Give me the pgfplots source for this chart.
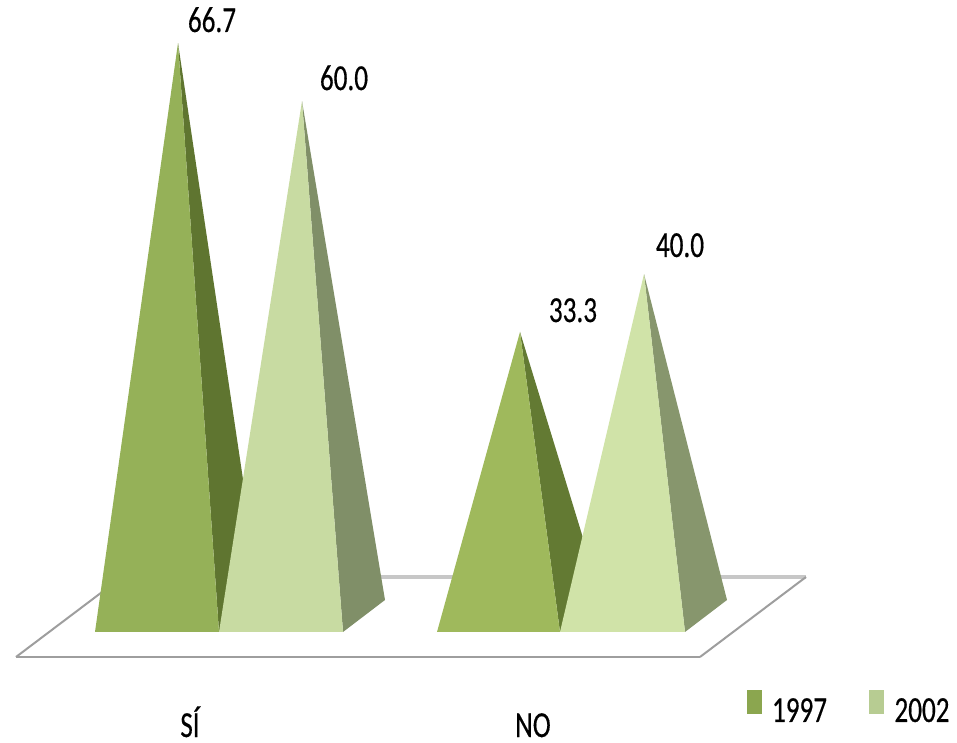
\documentclass[border=0pt]{standalone}
\usepackage{fontspec}
\setmainfont[FakeStretch=0.74,FakeBold=0.35]{Carlito}
\usepackage{pgfplots}
\pgfplotsset{compat=1.18}
\definecolor{aF}{HTML}{95B158}\definecolor{aS}{HTML}{5F7530}
\definecolor{bF}{HTML}{C8DBA2}\definecolor{bS}{HTML}{808F68}
\definecolor{cF}{HTML}{9FB95C}\definecolor{cS}{HTML}{637A33}
\definecolor{dF}{HTML}{D0E3A8}\definecolor{dS}{HTML}{87966D}
\definecolor{lgA}{HTML}{8BA64F}\definecolor{lgB}{HTML}{B7CC92}
\tikzset{lab/.style={anchor=base,font=\fontsize{27.5pt}{30pt}\selectfont,inner sep=0pt,text=black}}
\begin{document}
\begin{tikzpicture}
\begin{axis}[
  scale only axis, width=717.75pt, height=557.25pt,
  xmin=0, xmax=957, ymin=-14.22, ymax=71.68,
  hide axis, clip=false]
\path (axis cs:0,-14.22) rectangle (axis cs:957,71.68);
% floor
\addplot[color=black!22, line width=2.4pt, forget plot] coordinates {(122,4.971)(806,4.971)};
\addplot[color=black!38, line width=1.5pt, forget plot] coordinates {(16,-4.277)(122,4.971)};
\addplot[color=black!38, line width=1.5pt, forget plot] coordinates {(700,-4.277)(806,4.971)};
\addplot[color=black!38, line width=2pt, forget plot] coordinates {(16,-4.277)(700,-4.277)};
% SI 1997
\addplot[draw=none, fill=aS, forget plot] coordinates {(178,66.7)(219,-1.387)(261,2.312)} -- cycle;
\addplot[draw=none, fill=aF, forget plot] coordinates {(178,66.7)(95,-1.387)(219,-1.387)} -- cycle;
% SI 2002
\addplot[draw=none, fill=bS, forget plot] coordinates {(302,60.0)(343,-1.387)(385,2.312)} -- cycle;
\addplot[draw=none, fill=bF, forget plot] coordinates {(302,60.0)(219,-1.387)(343,-1.387)} -- cycle;
% NO 1997
\addplot[draw=none, fill=cS, forget plot] coordinates {(520,33.3)(560,-1.387)(602,2.312)} -- cycle;
\addplot[draw=none, fill=cF, forget plot] coordinates {(520,33.3)(437,-1.387)(560,-1.387)} -- cycle;
% NO 2002
\addplot[draw=none, fill=dS, forget plot] coordinates {(644,40.0)(685,-1.387)(727,2.312)} -- cycle;
\addplot[draw=none, fill=dF, forget plot] coordinates {(644,40.0)(560,-1.387)(685,-1.387)} -- cycle;
% legend keys
\addplot[draw=none, fill=lgA, forget plot] coordinates {(747,-8.09)(762,-8.09)(762,-10.87)(747,-10.87)} -- cycle;
\addplot[draw=none, fill=lgB, forget plot] coordinates {(869,-8.09)(884,-8.09)(884,-10.87)(869,-10.87)} -- cycle;
% labels
\node[lab] at (axis cs:212,67.98) {66.7};
\node[lab] at (axis cs:344,61.27) {60.0};
\node[lab] at (axis cs:573,34.45) {33.3};
\node[lab] at (axis cs:680,41.97) {40.0};
\node[lab] at (axis cs:190,-13.53) {SÍ};
\node[lab] at (axis cs:533,-13.53) {NO};
\node[lab] at (axis cs:799.5,-11.79) {1997};
\node[lab] at (axis cs:922,-11.79) {2002};
\end{axis}
\end{tikzpicture}
\end{document}
